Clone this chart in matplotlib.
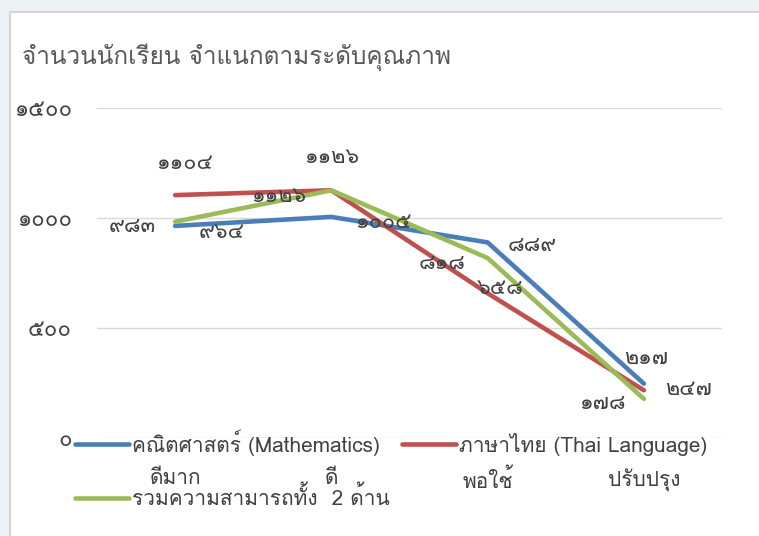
import matplotlib
matplotlib.use("Agg")
import matplotlib.pyplot as plt
from matplotlib import font_manager
from matplotlib.ft2font import FT2Font
from matplotlib.patches import Rectangle
from matplotlib.ticker import FuncFormatter


categories = ['ดีมาก', 'ดี', 'พอใช้', 'ปรับปรุง']
math_vals = [964, 1005, 889, 247]
thai_vals = [1104, 1126, 658, 217]
total_vals = [983, 1126, 818, 178]
series_names = ['คณิตศาสตร์ (Mathematics)', 'ภาษาไทย (Thai Language)',
                'รวมความสามารถทั้ง  2 ด้าน']
title = 'จำนวนนักเรียน จำแนกตามระดับคุณภาพ'
y_ticks = [0, 500, 1000, 1500]


def findThaiFamily():
    for f in font_manager.fontManager.ttflist:
        try:
            ft = FT2Font(f.fname)
            if ft.get_char_index(0x0E01) and ft.get_char_index(0x0E51):
                return f.name
        except Exception:
            pass
    return None


def thaiDigits(n) -> str:
    return str(n).translate(str.maketrans('0123456789', '๐๑๒๓๔๕๖๗๘๙'))


fam = findThaiFamily()
plt.rcParams['font.family'] = [fam, 'DejaVu Sans'] if fam else ['DejaVu Sans']

W, H = 759, 536
fig = plt.figure(figsize=(W / 100, H / 100), dpi=100)
fig.patch.set_facecolor('#eaf2f5')
fig.add_artist(Rectangle((10 / W, -0.01), 1.0, 1 - 12 / H + 0.01, transform=fig.transFigure,
                         facecolor='white', edgecolor='#d4d4d4', lw=1.5, zorder=-5))

ax = fig.add_axes([97 / W, 1 - 438 / H, 625 / W, 330 / H])
ax.set_facecolor('none')
ax.set_xlim(-0.5, 3.5)
ax.set_ylim(0, 1500)
for s in ax.spines.values():
    s.set_visible(False)
ax.set_yticks(y_ticks)
ax.yaxis.set_major_formatter(FuncFormatter(lambda v, p: thaiDigits(int(v))))
ax.grid(axis='y', color='#d9d9d9', lw=1)
ax.set_axisbelow(True)
ax.tick_params(axis='y', length=0, pad=18, labelsize=16, labelcolor='#404040')
ax.set_xticks(range(len(categories)))
ax.set_xticklabels(categories)
ax.tick_params(axis='x', length=0, pad=22, labelsize=15, labelcolor='#404040')

colors = ['#4a7ebb', '#c0504d', '#9bbb59']
xs = range(len(categories))
lines = []
for vals, c, name in zip([math_vals, thai_vals, total_vals], colors, series_names):
    ln, = ax.plot(xs, vals, color=c, lw=3.3, label=name, solid_capstyle='round')
    lines.append(ln)

# data labels, offsets in pixels (odd placement as in the original)
offsets = {
    0: [(46, -7), (52, -6), (45, -3), (45, -6)],
    1: [(9, 32), (0, 33), (13, 5), (2, 32)],
    2: [(-43, -5), (-53, -6), (-46, -5), (-42, -5)],
}
for i, vals in enumerate([math_vals, thai_vals, total_vals]):
    for j, v in enumerate(vals):
        ax.annotate(thaiDigits(v), (j, v), xytext=offsets[i][j], textcoords='offset pixels',
                    ha='center', va='center', fontsize=15.5, color='#404040')

fig.text(22 / W, 1 - 57 / H, title, fontsize=17.5, color='#595959', va='center')

fig.legend([lines[0], lines[2], lines[1]], [series_names[0], series_names[2], series_names[1]],
           ncol=2, loc='upper left', bbox_to_anchor=(75 / W, 1 - 429 / H),
           frameon=False, fontsize=15, handlelength=2.6, handletextpad=0.15,
           columnspacing=0.55, labelspacing=1.46, borderpad=0, borderaxespad=0,
           labelcolor='#404040')

fig.savefig('out.png', dpi=100, facecolor=fig.get_facecolor())
